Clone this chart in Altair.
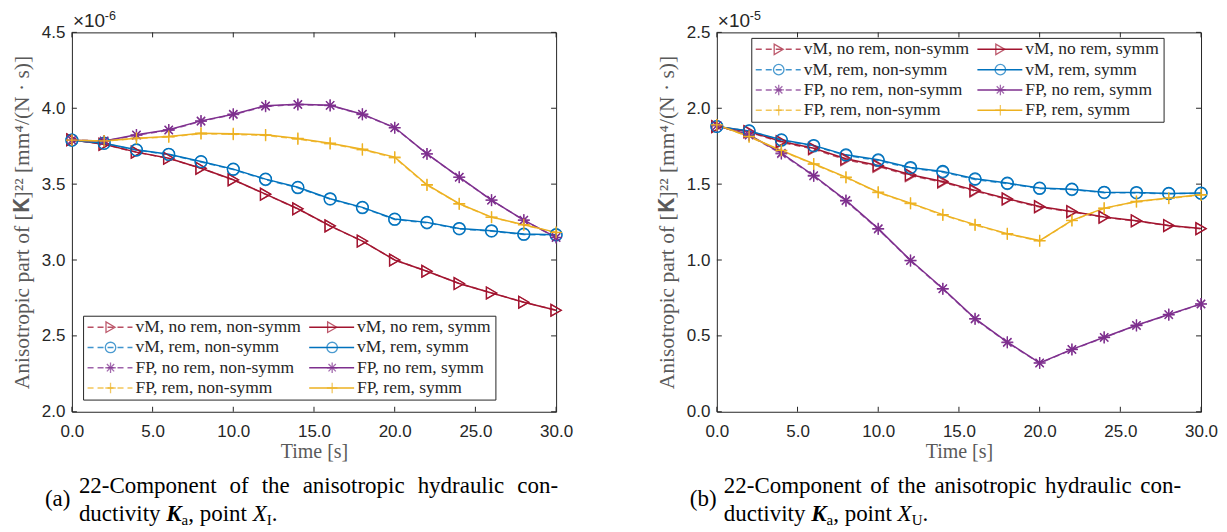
import altair as alt
import pandas as pd

# ---------------- data ----------------
time_s = [0, 2, 4, 6, 8, 10, 12, 14, 16, 18, 20, 22, 24, 26, 28, 30]

# panel (a), point X_I, values x 1e-6
a_vm_norem_symm = [3.792, 3.763, 3.711, 3.671, 3.605, 3.529, 3.434, 3.338, 3.225, 3.125, 3.000, 2.926, 2.845, 2.783, 2.722, 2.669]
a_vm_norem_nonsymm = [3.792, 3.762, 3.710, 3.670, 3.604, 3.528, 3.433, 3.337, 3.224, 3.124, 3.000, 2.926, 2.845, 2.783, 2.722, 2.669]
a_vm_rem_symm = [3.790, 3.770, 3.726, 3.697, 3.649, 3.599, 3.533, 3.479, 3.404, 3.347, 3.270, 3.248, 3.208, 3.193, 3.171, 3.167]
a_vm_rem_nonsymm = [3.790, 3.768, 3.724, 3.695, 3.646, 3.596, 3.530, 3.476, 3.401, 3.344, 3.267, 3.245, 3.205, 3.190, 3.168, 3.164]
a_fp_norem_symm = [3.790, 3.785, 3.825, 3.858, 3.917, 3.961, 4.016, 4.026, 4.020, 3.961, 3.873, 3.700, 3.546, 3.395, 3.263, 3.149]
a_fp_norem_nonsymm = [3.790, 3.784, 3.822, 3.855, 3.914, 3.958, 4.013, 4.024, 4.018, 3.959, 3.871, 3.699, 3.545, 3.394, 3.262, 3.148]
a_fp_rem_symm = [3.790, 3.785, 3.803, 3.814, 3.836, 3.832, 3.825, 3.801, 3.770, 3.730, 3.678, 3.496, 3.371, 3.283, 3.233, 3.182]
a_fp_rem_nonsymm = [3.790, 3.784, 3.800, 3.811, 3.832, 3.828, 3.821, 3.797, 3.766, 3.726, 3.674, 3.493, 3.369, 3.281, 3.231, 3.180]

# panel (b), point X_U, values x 1e-5
b_vm_norem_symm = [1.880, 1.847, 1.781, 1.737, 1.667, 1.623, 1.562, 1.518, 1.459, 1.404, 1.353, 1.320, 1.283, 1.259, 1.228, 1.207]
b_vm_norem_nonsymm = [1.878, 1.843, 1.776, 1.731, 1.661, 1.617, 1.556, 1.512, 1.454, 1.400, 1.349, 1.317, 1.281, 1.257, 1.226, 1.206]
b_vm_rem_symm = [1.880, 1.851, 1.792, 1.755, 1.693, 1.660, 1.610, 1.584, 1.535, 1.507, 1.474, 1.467, 1.447, 1.445, 1.439, 1.441]
b_vm_rem_nonsymm = [1.880, 1.849, 1.789, 1.751, 1.689, 1.655, 1.605, 1.579, 1.531, 1.503, 1.471, 1.464, 1.444, 1.442, 1.437, 1.439]
b_fp_norem_symm = [1.885, 1.825, 1.704, 1.557, 1.393, 1.207, 0.998, 0.812, 0.614, 0.459, 0.322, 0.411, 0.491, 0.570, 0.641, 0.711]
b_fp_norem_nonsymm = [1.885, 1.822, 1.700, 1.553, 1.389, 1.203, 0.995, 0.809, 0.611, 0.456, 0.320, 0.409, 0.489, 0.568, 0.639, 0.709]
b_fp_rem_symm = [1.891, 1.814, 1.722, 1.634, 1.546, 1.447, 1.375, 1.299, 1.233, 1.174, 1.128, 1.261, 1.342, 1.386, 1.408, 1.430]
b_fp_rem_nonsymm = [1.891, 1.812, 1.719, 1.631, 1.543, 1.444, 1.372, 1.296, 1.230, 1.171, 1.126, 1.259, 1.340, 1.384, 1.406, 1.428]

x_ticks = [0, 5, 10, 15, 20, 25, 30]
a_y_ticks = [2.0, 2.5, 3.0, 3.5, 4.0, 4.5]
b_y_ticks = [0.0, 0.5, 1.0, 1.5, 2.0, 2.5]

groups = ["vM, no rem", "vM, rem", "FP, no rem", "FP, rem"]
colors = ["#A2142F", "#0072BD", "#7E2F8E", "#EDB120"]
PLUS = "M-1,0L1,0M0,-1L0,1"
STAR = "M-1,0L1,0M0,-1L0,1M-0.7,-0.7L0.7,0.7M-0.7,0.7L0.7,-0.7"
shapes = ["triangle-right", "circle", STAR, PLUS]

caption_line1 = ["22-Component", "of", "the", "anisotropic", "hydraulic", "con-"]

W, H = 485, 380
TXT = "#262626"

# Times-compatible advance widths (per 1000 em) used only to lay out the justified caption line
TW = {'2': 500, '-': 333, 'C': 667, 'o': 500, 'm': 778, 'p': 500, 'n': 500, 'e': 444, 't': 278,
      'f': 333, 'h': 500, 'a': 444, 'i': 278, 's': 389, 'r': 333, 'c': 444, 'y': 500, 'd': 500,
      'u': 500, 'l': 278, 'v': 500, ',': 250, '.': 250, ' ': 250}


def twidth(s, size):
    return sum(TW.get(ch, 500) for ch in s) * size / 1000.0


color_scale = alt.Scale(domain=groups, range=colors)
shape_scale = alt.Scale(domain=groups, range=shapes)


def panel(series, ydom, yticks, exp_txt, leg_x, leg_y, letter, sub, line_w):
    rows = []
    for g in groups:
        for kind, vals in (("non-symm", series[g][0]), ("symm", series[g][1])):
            for t, v in zip(time_s, vals):
                rows.append({"t": t, "v": v, "group": g, "kind": kind})
    df = pd.DataFrame(rows)

    X = alt.X("t:Q", scale=alt.Scale(domain=[0, 30], nice=False),
              axis=alt.Axis(values=x_ticks, format=".1f", title="Time [s]", labelFlush=False))
    ytitle = "Anisotropic part of [𝐊]²² [mm⁴/(N · s)]"
    Y = alt.Y("v:Q", scale=alt.Scale(domain=ydom, nice=False, zero=False),
              axis=alt.Axis(values=yticks, format=".1f", title=ytitle, labelFlush=False))
    C = alt.Color("group:N", scale=color_scale, legend=None)
    S = alt.Shape("group:N", scale=shape_scale, legend=None)

    base = alt.Chart(df)
    ns = base.transform_filter(alt.datum.kind == "non-symm")
    sy = base.transform_filter(alt.datum.kind == "symm")
    l_ns = ns.mark_line(strokeDash=[6, 4], strokeWidth=1.5, opacity=0.75).encode(x=X, y=Y, color=C, detail="group:N")
    p_ns = ns.mark_point(filled=False, strokeWidth=1.3, size=140, opacity=0.75).encode(x=X, y=Y, color=C, shape=S)
    l_s = sy.mark_line(strokeWidth=1.5).encode(x=X, y=Y, color=C, detail="group:N")
    p_s = sy.mark_point(filled=False, strokeWidth=1.3, size=140, opacity=1).encode(x=X, y=Y, color=C, shape=S)

    # inward ticks (box style)
    xt = alt.Chart(pd.DataFrame({"t": x_ticks}))
    yt = alt.Chart(pd.DataFrame({"v": yticks}))
    tk = dict(color=TXT, strokeWidth=1)
    t_bot = xt.mark_rule(**tk).encode(x=X, y=alt.value(H), y2=alt.value(H - 5))
    t_top = xt.mark_rule(**tk).encode(x=X, y=alt.value(0), y2=alt.value(5))
    t_lef = yt.mark_rule(**tk).encode(y=Y, x=alt.value(0), x2=alt.value(5))
    t_rig = yt.mark_rule(**tk).encode(y=Y, x=alt.value(W), x2=alt.value(W - 5))

    # legend
    LW, LH, ROW = 413, 84, 20.3
    leg_rows = []
    for gi, g in enumerate(groups):
        for col, kind in enumerate(["non-symm", "symm"]):
            x1 = leg_x + 4 + col * 222
            leg_rows.append({"group": g, "kind": kind, "x1": x1, "x2": x1 + 45,
                             "xm": x1 + 23, "xt": x1 + 48, "py": leg_y + 11 + gi * ROW,
                             "label": f"{g}, {kind}"})
    ldf = pd.DataFrame(leg_rows)
    lc = alt.Chart(ldf)
    box = alt.Chart(pd.DataFrame({"a": [0]})).mark_rect(fill="white", stroke=TXT, strokeWidth=1).encode(
        x=alt.value(leg_x), x2=alt.value(leg_x + LW), y=alt.value(leg_y), y2=alt.value(leg_y + LH))
    PX = lambda f: alt.X(f, scale=None, axis=None)
    PY = alt.Y("py:Q", scale=None, axis=None)
    lr_ns = lc.transform_filter(alt.datum.kind == "non-symm").mark_rule(strokeDash=[6, 4], strokeWidth=1.5, opacity=0.75).encode(
        x=PX("x1:Q"), x2="x2:Q", y=PY, color=C)
    lr_s = lc.transform_filter(alt.datum.kind == "symm").mark_rule(strokeWidth=1.5).encode(
        x=PX("x1:Q"), x2="x2:Q", y=PY, color=C)
    lp = lc.mark_point(filled=False, strokeWidth=1.3, size=110).encode(x=PX("xm:Q"), y=PY, color=C, shape=S)
    lt = lc.mark_text(align="left", baseline="middle", font="Liberation Serif", fontSize=17.5, color=TXT).encode(
        x=PX("xt:Q"), y=PY, text="label:N")

    # exponent
    e1 = alt.Chart(pd.DataFrame({"s": ["×10"]})).mark_text(align="left", baseline="alphabetic", font="Liberation Sans",
                                                           fontSize=19, color=TXT).encode(
        x=alt.value(1), y=alt.value(-5), text="s:N")
    e2 = alt.Chart(pd.DataFrame({"s": [exp_txt]})).mark_text(align="left", baseline="alphabetic", font="Liberation Sans",
                                                             fontSize=12.5, color=TXT).encode(
        x=alt.value(33), y=alt.value(-12), text="s:N")

    # caption
    cap_font = dict(font="Liberation Serif", color="black", baseline="alphabetic", align="left")

    def ctext(s, x, y, size=23, **kw):
        return alt.Chart(pd.DataFrame({"s": [s]})).mark_text(fontSize=size, **cap_font, **kw).encode(
            x=alt.value(x), y=alt.value(y), text="s:N")

    fs = 23
    cx = 7
    l1 = 461
    l2 = 489
    caps = [ctext(f"({letter})", -27, 474)]
    widths = [twidth(w, fs) for w in caption_line1]
    gap = (line_w - sum(widths)) / (len(caption_line1) - 1)
    xpos = cx
    for w, wd in zip(caption_line1, widths):
        caps.append(ctext(w, xpos, l1))
        xpos += wd + gap
    x_k = cx + twidth("ductivity ", fs)
    x_a = x_k + 0.667 * fs
    x_p = x_a + twidth("a", 15)
    x_x = x_p + twidth(", point ", fs)
    x_s = x_x + 0.611 * fs
    x_d = x_s + (0.722 if sub == "U" else 0.333) * 15
    caps += [
        ctext("ductivity", cx, l2),
        ctext("K", x_k, l2, fontStyle="italic", fontWeight="bold"),
        ctext("a", x_a, l2 + 4, size=15),
        ctext(", point", x_p, l2),
        ctext("X", x_x, l2, fontStyle="italic"),
        ctext(sub, x_s, l2 + 4, size=15),
        ctext(".", x_d, l2),
    ]

    layers = [l_ns, p_ns, l_s, p_s, t_bot, t_top, t_lef, t_rig, box, lr_ns, lr_s, lp, lt, e1, e2] + caps
    return alt.layer(*layers).properties(width=W, height=H)


sa = {
    "vM, no rem": (a_vm_norem_nonsymm, a_vm_norem_symm),
    "vM, rem": (a_vm_rem_nonsymm, a_vm_rem_symm),
    "FP, no rem": (a_fp_norem_nonsymm, a_fp_norem_symm),
    "FP, rem": (a_fp_rem_nonsymm, a_fp_rem_symm),
}
sb = {
    "vM, no rem": (b_vm_norem_nonsymm, b_vm_norem_symm),
    "vM, rem": (b_vm_rem_nonsymm, b_vm_rem_symm),
    "FP, no rem": (b_fp_norem_nonsymm, b_fp_norem_symm),
    "FP, rem": (b_fp_rem_nonsymm, b_fp_rem_symm),
}

left = panel(sa, [2.0, 4.5], a_y_ticks, "-6", 11.7, 284.3, "a", "I", 480)
right = panel(sb, [0.0, 2.5], b_y_ticks, "-5", 35, 6, "b", "U", 458)

chart = alt.hconcat(left, right, spacing=81).configure(
    padding={"left": 2, "top": 1, "right": 0, "bottom": 0}
).configure_view(stroke=TXT, strokeWidth=1).configure_axis(
    domain=False, ticks=False, grid=False, labelFlush=False,
    labelFont="Liberation Sans", labelFontSize=17, labelColor=TXT,
    titleFont="Liberation Serif", titleColor="#5a5a5a", titleFontWeight="normal",
).configure_axisX(labelPadding=12, titlePadding=2, titleFontSize=20).configure_axisY(
    labelPadding=7, titlePadding=8, titleFontSize=21.5)

chart.save("out.html", embed_options={"renderer": "svg", "actions": False})
